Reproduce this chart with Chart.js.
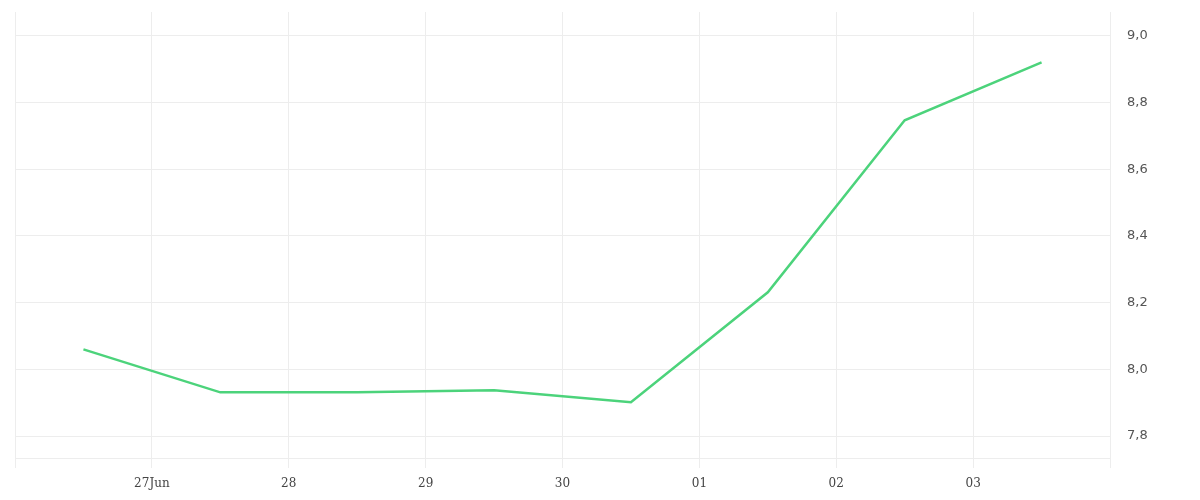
<!DOCTYPE html>
<html>
<head>
<meta charset="utf-8">
<script src="https://cdn.jsdelivr.net/npm/chart.js@4/dist/chart.umd.min.js"></script>
<style>
    html, body { margin: 0; padding: 0; background: #fff; }
    #wrap { width: 1200px; height: 500px; position: relative; }
</style>
</head>
<body>
<div id="wrap"><canvas id="chart"></canvas></div>
<script>
// Day labels for gridlines (0 = 26Jun, 8 = 04 are edges, unlabeled)
const dayLabels = ['', '27Jun', '28', '29', '30', '01', '02', '03', ''];

// Points sit at midday of each day
const pointX = [0.5, 1.5, 2.5, 3.5, 4.5, 5.5, 6.5, 7.5];
const values = [8.06, 7.931, 7.931, 7.937, 7.901, 8.231, 8.747, 8.921];

const yTicks = [7.8, 8.0, 8.2, 8.4, 8.6, 8.8, 9.0];

const gridColor = '#ededed';

new Chart(document.getElementById('chart'), {
    type: 'line',
    data: {
        datasets: [{
            data: pointX.map((x, i) => ({ x: x, y: values[i] })),
            borderColor: '#4cd37b',
            borderWidth: 2.5,
            pointRadius: 0,
            tension: 0,
            fill: false
        }]
    },
    options: {
        responsive: true,
        maintainAspectRatio: false,
        animation: false,
        layout: {
            padding: { left: 15, top: 12, right: 0, bottom: 0 }
        },
        plugins: {
            legend: { display: false },
            tooltip: { enabled: false }
        },
        scales: {
            x: {
                type: 'linear',
                min: 0,
                max: 8,
                afterBuildTicks: function(axis) {
                    axis.ticks = dayLabels.map((l, i) => ({ value: i }));
                },
                afterFit: function(axis) {
                    axis.height = 42;
                    axis.paddingLeft = 0;
                    axis.paddingRight = 0;
                },
                grid: {
                    color: gridColor,
                    drawTicks: true,
                    tickLength: 10,
                    lineWidth: 1
                },
                border: { display: true, color: gridColor },
                ticks: {
                    autoSkip: false,
                    maxRotation: 0,
                    padding: 9,
                    color: '#444',
                    font: { family: 'DejaVu Serif', size: 12 },
                    callback: function(value) {
                        return dayLabels[value];
                    }
                }
            },
            y: {
                position: 'right',
                min: 7.734,
                max: 9.072,
                afterBuildTicks: function(axis) {
                    axis.ticks = yTicks.map(v => ({ value: v }));
                },
                afterFit: function(axis) {
                    axis.width = 90;
                    axis.paddingTop = 0;
                    axis.paddingBottom = 0;
                },
                grid: {
                    color: gridColor,
                    drawTicks: false
                },
                border: { display: true, color: gridColor },
                ticks: {
                    padding: 17,
                    color: '#555',
                    font: { family: 'DejaVu Sans', size: 13 },
                    callback: function(value) {
                        return value.toFixed(1).replace('.', ',');
                    }
                }
            }
        }
    }
});
</script>
</body>
</html>
